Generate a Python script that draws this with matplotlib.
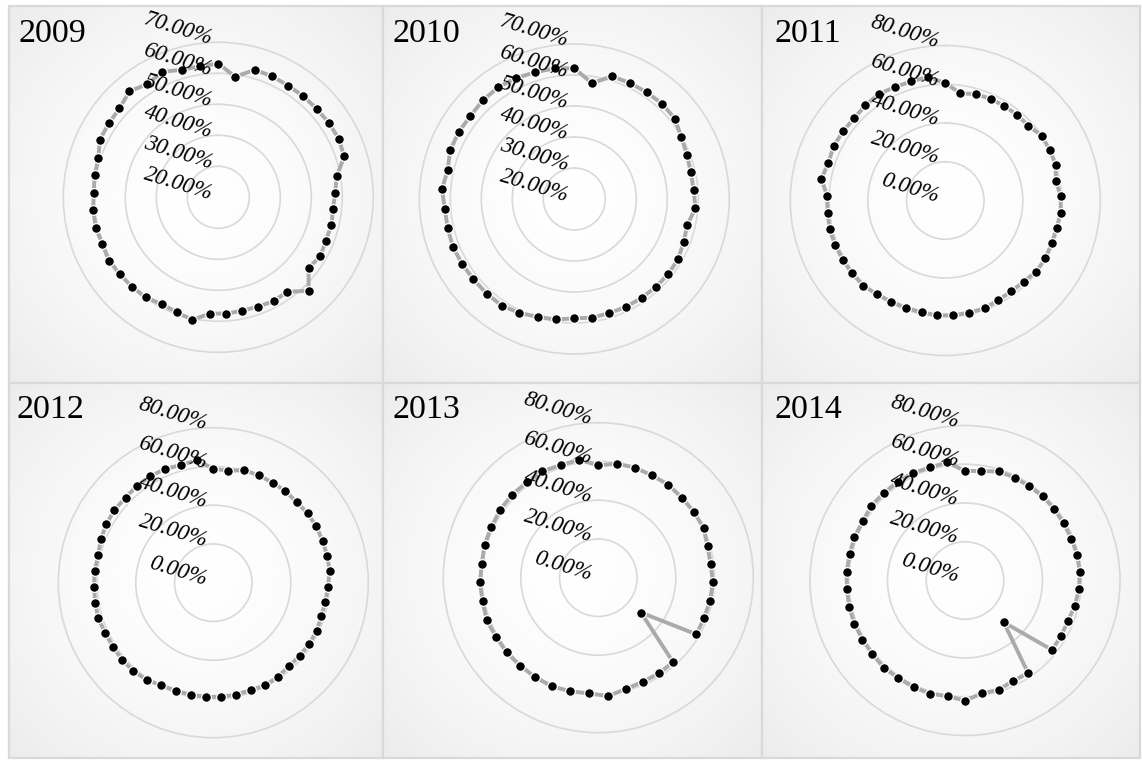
import numpy as np
import matplotlib
matplotlib.use("Agg")
import matplotlib.pyplot as plt
from matplotlib.patches import Rectangle

# ---------------- data (percent values, clockwise from top) ----------------
years = ["2009", "2010", "2011", "2012", "2013", "2014"]

values_2009 = [63.1, 59.3, 62.8, 62.7, 62.5, 62.6, 62.7, 63.0, 63.2, 62.7, 58.8, 57.7,
               57.2, 57.6, 57.4, 58.0, 57.0, 61.9, 57.7, 58.0, 57.5, 57.4, 57.6, 57.6,
               60.4, 59.4, 59.0, 59.9, 60.1, 60.3, 60.8, 60.3, 60.7, 60.6, 60.2, 60.5,
               60.7, 62.5, 62.6, 62.9, 64.6, 63.1, 64.3, 62.8, 62.7]
values_2010 = [62.2, 57.8, 61.4, 61.5, 61.6, 61.8, 61.5, 59.9, 59.0, 58.6, 58.6, 59.2,
               57.4, 57.9, 58.7, 58.8, 58.7, 58.6, 58.6, 58.5, 58.7, 58.5, 59.3, 59.8,
               60.8, 61.6, 61.6, 61.6, 61.8, 62.1, 61.9, 61.9, 62.8, 61.9, 63.0, 63.1,
               62.9, 63.4, 63.6, 63.3, 62.8, 62.6]
values_2011 = [60.6, 55.9, 57.1, 57.5, 57.5, 57.7, 57.7, 59.9, 59.9, 59.9, 58.0, 59.6,
               59.9, 59.2, 59.2, 59.7, 59.6, 58.2, 58.0, 58.2, 59.2, 59.2, 59.4, 59.4,
               59.0, 59.0, 59.2, 59.9, 61.0, 61.1, 61.1, 61.3, 61.5, 61.1, 61.0, 64.9,
               63.4, 64.1, 63.7, 63.4, 64.1, 64.8, 64.1, 63.9, 64.4]
values_2012 = [58.9, 58.2, 60.3, 60.1, 60.1, 60.1, 59.9, 60.4, 60.6, 60.4, 60.4, 60.4,
               59.2, 58.7, 58.4, 58.9, 58.7, 58.4, 58.2, 58.9, 59.4, 58.7, 59.0, 59.0,
               59.0, 59.0, 59.0, 59.4, 60.8, 61.5, 61.6, 61.5, 61.5, 62.2, 61.8, 61.6,
               61.6, 61.0, 62.3, 62.9, 63.4, 63.0, 63.7, 63.9, 63.7, 63.0, 63.7]
values_2013 = [58.0, 59.6, 59.9, 59.6, 60.1, 59.7, 59.9, 60.1, 58.7, 58.4, 59.2, 58.9,
               58.4, 58.5, 28.4, 58.2, 58.5, 58.4, 59.2, 61.3, 59.9, 60.4, 61.0, 60.8,
               60.8, 61.0, 61.0, 61.6, 61.0, 61.1, 60.6, 61.1, 61.1, 61.6, 61.8, 61.5,
               62.0, 61.3, 61.6]
values_2014 = [56.6, 57.1, 58.9, 59.0, 58.9, 59.2, 59.0, 58.9, 59.0, 59.4, 59.4, 59.0,
               58.2, 57.1, 57.3, 57.5, 29.4, 57.8, 57.5, 59.0, 58.9, 62.0, 60.4, 61.1,
               61.1, 61.0, 61.5, 61.1, 61.1, 61.3, 61.3, 61.1, 61.3, 61.0, 61.3, 61.0,
               61.8, 61.6, 61.6, 61.6, 61.1, 61.6]

ticks_a = [20, 30, 40, 50, 60, 70]   # 2009, 2010
ticks_b = [0, 20, 40, 60, 80]        # 2011-2014

series = [values_2009, values_2010, values_2011, values_2012, values_2013, values_2014]
ticks = [ticks_a, ticks_a, ticks_b, ticks_b, ticks_b, ticks_b]

# ---------------- layout (pixels) ----------------
W, H, DPI = 1142, 760, 100
fig = plt.figure(figsize=(W / DPI, H / DPI), dpi=DPI)
fig.patch.set_facecolor("white")

panels = [(9, 6, 383, 383), (383, 6, 762, 383), (762, 6, 1140, 383),
          (9, 383, 383, 758), (383, 383, 762, 758), (762, 383, 1140, 758)]
centers = [(218.3, 197.3), (574.3, 199.0), (945.3, 200.5),
           (213.3, 582.7), (598.3, 577.7), (965.0, 580.5)]
title_pos = [(18, 42), (393, 42), (775, 42), (17, 418), (393, 418), (775, 418)]
R = 155.0


def fx(x):
    return x / W


def fy(y):
    return 1 - y / H


# radial gradient image
n = 200
yy, xx = np.mgrid[-1:1:n * 1j, -1:1:n * 1j]
rr = np.sqrt(xx ** 2 + yy ** 2) / np.sqrt(2)
grad = 1.0 - 0.075 * rr ** 1.6
grad_img = np.dstack([grad, grad, grad])

for k in range(6):
    x0, y0, x1, y1 = panels[k]
    bg = fig.add_axes([fx(x0), fy(y1), (x1 - x0) / W, (y1 - y0) / H])
    bg.imshow(grad_img, extent=(0, 1, 0, 1), aspect="auto", interpolation="bilinear")
    bg.set_xlim(0, 1)
    bg.set_ylim(0, 1)
    bg.axis("off")
    bg.add_patch(Rectangle((0, 0), 1, 1, transform=bg.transAxes, fill=False,
                           edgecolor="#d9d9d9", linewidth=1.6, clip_on=False))

    cx, cy = centers[k]
    ax = fig.add_axes([fx(cx - R), fy(cy + R), 2 * R / W, 2 * R / H], projection="polar")
    ax.patch.set_alpha(0)
    ax.set_theta_zero_location("N")
    ax.set_theta_direction(-1)
    tk = ticks[k]
    ax.set_ylim(tk[0], tk[-1])
    ax.set_yticks(tk[1:-1])
    ax.set_yticklabels([])
    ax.set_xticks([])
    ax.yaxis.grid(True, color="#d9d9d9", linewidth=1.2)
    ax.xaxis.grid(False)
    ax.spines["polar"].set_color("#d9d9d9")
    ax.spines["polar"].set_linewidth(1.2)

    vals = np.array(series[k])
    N = len(vals)
    theta = 2 * np.pi * np.arange(N) / N
    ax.plot(np.append(theta, theta[0]), np.append(vals, vals[0]), color="#aaaaaa",
            linewidth=2.8, zorder=3, clip_on=False)
    ax.plot(theta, vals, linestyle="none", marker="o", markersize=7.0,
            markerfacecolor="black", markeredgecolor="white", markeredgewidth=0.9,
            zorder=4, clip_on=False)

    for v in tk:
        ax.annotate(f"{v:.2f}%", xy=(0, v), xycoords="data", xytext=(-6.5, 3),
                    textcoords="offset pixels", ha="right", va="center",
                    rotation=-17, rotation_mode="anchor", fontsize=16.5,
                    fontstyle="italic", family="Liberation Serif", color="black",
                    zorder=5, annotation_clip=False)

    tx, ty = title_pos[k]
    fig.text(fx(tx), fy(ty), years[k], fontsize=24.5, family="Liberation Serif",
             ha="left", va="baseline", color="black")

fig.savefig("out.png", dpi=DPI)
